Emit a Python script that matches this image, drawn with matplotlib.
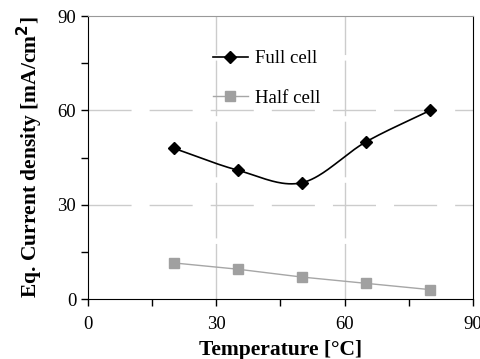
import numpy as np
import matplotlib.pyplot as plt
from matplotlib.ticker import MultipleLocator

temp = [20, 35, 50, 65, 80]
full_cell = [48, 41, 37, 50, 60]
half_cell = [11.5, 9.5, 7, 5, 3]
grid_at = [30, 60]


def smooth(x, y, n=40):
    # catmull-rom like the spreadsheet "smoothed line"
    x = np.asarray(x, float)
    y = np.asarray(y, float)
    px = np.concatenate([[2 * x[0] - x[1]], x, [2 * x[-1] - x[-2]]])
    py = np.concatenate([[2 * y[0] - y[1]], y, [2 * y[-1] - y[-2]]])
    xs, ys = [], []
    t = np.linspace(0, 1, n)
    for i in range(1, len(px) - 2):
        for p, out in ((px, xs), (py, ys)):
            p0, p1, p2, p3 = p[i - 1], p[i], p[i + 1], p[i + 2]
            out.append(0.5 * (2 * p1 + (-p0 + p2) * t
                              + (2 * p0 - 5 * p1 + 4 * p2 - p3) * t ** 2
                              + (-p0 + 3 * p1 - 3 * p2 + p3) * t ** 3))
    return np.concatenate(xs), np.concatenate(ys)


plt.rcParams['font.family'] = 'Liberation Serif'

fig = plt.figure(figsize=(4.81, 3.59), dpi=100)
ax = fig.add_axes([0.183, 0.167, 0.8, 0.788])

# grid: vertical almost solid, horizontal long dashes
for g in grid_at:
    ax.axvline(g, color='#cccccc', lw=1.0, dashes=(40, 4), zorder=0)
    ax.axhline(g, color='#cccccc', lw=1.0, dashes=(31, 13), zorder=0)

sx, sy = smooth(temp, full_cell)
ax.plot(sx, sy, '-', color='black', lw=1.2)
ax.plot(temp, full_cell, 'D', color='black', ms=6)
ax.plot([], [], 'D-', color='black', ms=6, lw=1.2, label='Full cell')
ax.plot(temp, half_cell, 's-', color='#a6a6a6', mfc='#a0a0a0', mec='#a0a0a0',
        ms=7.5, lw=1.0, label='Half cell')

ax.set_xlim(0, 90)
ax.set_ylim(0, 90)
ax.xaxis.set_major_locator(MultipleLocator(30))
ax.yaxis.set_major_locator(MultipleLocator(30))
ax.xaxis.set_minor_locator(MultipleLocator(15))
ax.yaxis.set_minor_locator(MultipleLocator(15))
ax.tick_params(which='both', direction='out', length=5, width=1, labelsize=13.5)
ax.tick_params(axis='x', pad=7)
ax.spines['top'].set_color('#999999')

ax.set_xlabel('Temperature [°C]', fontsize=15.5, fontweight='bold', labelpad=5)
ax.set_ylabel('Eq. Current density [mA/cm$^\\mathbf{2}$]', fontsize=15.5,
              fontweight='bold', labelpad=9)

ax.legend(loc='upper left', bbox_to_anchor=(0.28, 0.94), frameon=False,
          fontsize=13.5, labelspacing=1.2, handlelength=1.9, handletextpad=0.35)

fig.savefig('out.png', dpi=100)
